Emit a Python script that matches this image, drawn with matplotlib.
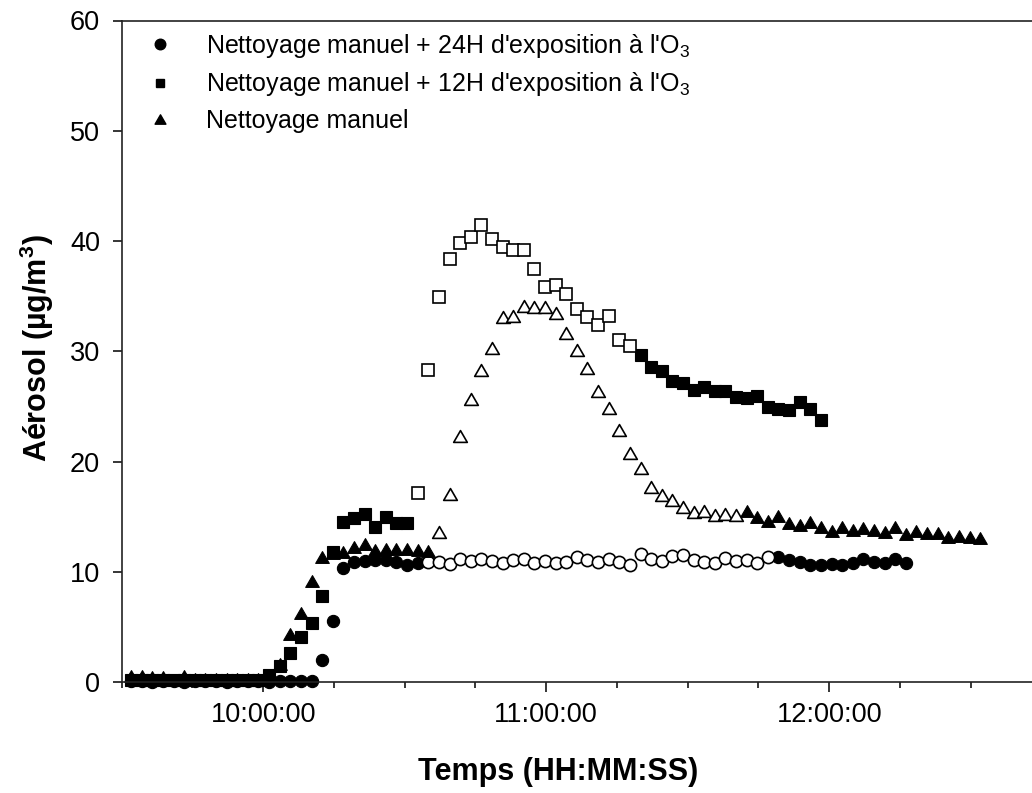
import matplotlib
matplotlib.use("Agg")
import matplotlib.pyplot as plt
import matplotlib.dates as mdates
from matplotlib.path import Path
from matplotlib.lines import Line2D
import numpy as np
import pandas as pd

plt.rcParams['font.family'] = ['Liberation Sans', 'DejaVu Sans']
plt.rcParams['mathtext.fontset'] = 'custom'
plt.rcParams['mathtext.rm'] = 'Liberation Sans'
plt.rcParams['mathtext.it'] = 'Liberation Sans:italic'
plt.rcParams['mathtext.bf'] = 'Liberation Sans:bold'

# ---------------- data ----------------
day = "2000-01-01 "
start_time = day + "09:32:00"      # first sample of every series
sample_interval = "135s"            # 2 min 15 s between samples

labels = ["Nettoyage manuel + 24H d'exposition à l'O$_3$",
          "Nettoyage manuel + 12H d'exposition à l'O$_3$",
          "Nettoyage manuel"]

# Nettoyage manuel + 24H d'exposition a l'O3 (circles)
aerosol_24h = [0.1, 0.1, 0.0, 0.1, 0.1, 0.0, 0.1, 0.1, 0.1, 0.0, 0.1, 0.1, 0.1, 0.0, 0.1, 0.1, 0.1, 0.1,
               2.0, 5.6, 10.35, 10.9, 11.0, 11.1, 11.1, 10.9, 10.6, 10.8,
               10.9,
               10.95, 10.71, 11.2, 11.01, 11.17, 11.01, 10.86, 11.1, 11.2, 10.86, 11.01, 10.86, 10.95, 11.4,
               11.1, 10.95, 11.2, 10.95, 10.6, 11.65, 11.2, 11.01, 11.47, 11.53, 11.1, 10.9, 10.85, 11.26, 10.98,
               11.1, 10.8, 11.35,
               11.35, 11.1, 10.9, 10.65, 10.65, 10.7, 10.65, 10.8, 11.17, 10.95, 10.8, 11.17, 10.8]
open_24h = (day + "10:35:00", day + "11:47:00")

# Nettoyage manuel + 12H d'exposition a l'O3 (squares)
aerosol_12h = [0.2, 0.2, 0.2, 0.2, 0.2, 0.2, 0.2, 0.2, 0.2, 0.2, 0.2, 0.2, 0.2,
               0.7, 1.5, 2.65, 4.15, 5.4, 7.8, 11.8, 14.5, 14.9, 15.3, 14.1, 15.0, 14.4, 14.4,
               17.2, 28.3, 34.9, 38.4, 39.8, 40.4, 41.5, 40.2, 39.5, 39.15, 39.2, 37.45, 35.8, 36.0,
               35.2, 33.8, 33.1, 32.4, 33.25, 31.0, 30.5,
               29.7, 28.6, 28.2, 27.3, 27.1, 26.5, 26.8, 26.4, 26.4, 25.9, 25.75, 26.0, 24.95, 24.8,
               24.65, 25.45, 24.8, 23.8]
open_12h = (day + "10:32:45", day + "11:17:45")

# Nettoyage manuel (triangles)
aerosol_manuel = [0.6, 0.6, 0.5, 0.5, 0.2, 0.6, 0.3, 0.3, 0.3, 0.3, 0.3, 0.3, 0.3, 0.4,
                  1.7, 4.4, 6.3, 9.2, 11.4, 11.7, 11.8, 12.3, 12.5, 12.0, 12.1, 12.1, 12.1, 12.0, 11.9,
                  13.6, 17.06, 22.35, 25.7, 28.3, 30.3, 33.1, 33.2, 34.1, 34.07, 34.0, 33.5, 31.65, 30.1,
                  28.5, 26.45, 24.85, 22.9, 20.8, 19.4, 17.7, 17.0, 16.55, 15.85, 15.4, 15.5, 15.15, 15.3, 15.15,
                  15.5, 15.0, 14.6, 15.05, 14.4, 14.3, 14.5, 14.1, 13.7, 14.1, 13.8, 14.0, 13.8, 13.6,
                  14.1, 13.4, 13.7, 13.5, 13.5, 13.2, 13.3, 13.2, 13.1]
open_manuel = (day + "10:37:15", day + "11:40:15")

y_ticks = [0, 10, 20, 30, 40, 50, 60]
x_limits = (day + "09:30:00", day + "12:50:00")

# ---------------- figure ----------------
W, H = 1032, 793
PX_PER_HOUR = 283
fig = plt.figure(figsize=(W / 100, H / 100), dpi=100)
span_h = (pd.Timestamp(x_limits[1]) - pd.Timestamp(x_limits[0])).total_seconds() / 3600
ax_w_px = PX_PER_HOUR * span_h
ax_left, ax_bottom = 121.7 / W, (H - 682.3) / H
ax_h_px = 682.3 - 20.5
ax = fig.add_axes([ax_left, ax_bottom, ax_w_px / W, ax_h_px / H])

tri = Path([(-1, -0.866), (1, -0.866), (0, 0.866), (-1, -0.866)],
           [Path.MOVETO, Path.LINETO, Path.LINETO, Path.CLOSEPOLY])

series = [
    (aerosol_24h, open_24h, 'o', 8.8, labels[0], 7.6),
    (aerosol_12h, open_12h, 's', 8.2, labels[1], 6.4),
    (aerosol_manuel, open_manuel, tri, 9.8, labels[2], 7.8),
]

handles = []
for vals, (o_start, o_end), mk, ms, lab, lms in series:
    v = np.array(vals)
    t = pd.date_range(start_time, periods=len(v), freq=sample_interval)
    is_open = (t >= pd.Timestamp(o_start)) & (t <= pd.Timestamp(o_end))
    ax.plot(t[~is_open], v[~is_open], ls='none', marker=mk, ms=ms,
            mfc='black', mec='black', mew=0.8, clip_on=False)
    ax.plot(t[is_open], v[is_open], ls='none', marker=mk, ms=ms,
            mfc='white', mec='black', mew=1.2, clip_on=False)
    handles.append(Line2D([], [], ls='none', marker=mk, ms=lms,
                          mfc='black', mec='black', label=lab))

ax.set_xlim(pd.Timestamp(x_limits[0]), pd.Timestamp(x_limits[1]))
ax.set_ylim(y_ticks[0], y_ticks[-1])
ax.set_yticks(y_ticks)

ax.xaxis.set_major_locator(mdates.HourLocator())
ax.xaxis.set_minor_locator(mdates.MinuteLocator(byminute=[0, 15, 30, 45]))
ax.xaxis.set_major_formatter(mdates.DateFormatter("%H:%M:%S"))

for s in ['left', 'bottom', 'top', 'right']:
    ax.spines[s].set_linewidth(1.2)
    ax.spines[s].set_color('#222222')

ax.tick_params(axis='x', which='major', direction='out', length=7.2, width=1.1,
               labelsize=19.5, pad=7, top=False)
ax.tick_params(axis='x', which='minor', direction='out', length=4.3, width=1.1, top=False)
ax.tick_params(axis='y', which='major', direction='out', length=6.5, width=1.1,
               labelsize=19.5, pad=9, right=False)

ax.set_xlabel("Temps (HH:MM:SS)", fontsize=22, fontweight='bold')
ax.set_ylabel(r"Aérosol (µg/m$^{\mathbf{3}}$)", fontsize=22, fontweight='bold')
ax.xaxis.set_label_coords((558 - 121.7) / ax_w_px, -(757 - 682.3) / ax_h_px)
ax.yaxis.set_label_coords((56 - 121.7) / ax_w_px, (682.3 - 348) / ax_h_px)

leg = ax.legend(handles=handles, loc='upper left', frameon=False,
                bbox_to_anchor=(147 / W, 1 - 32 / H), bbox_transform=fig.transFigure,
                fontsize=18, handlelength=1.0, handletextpad=1.35,
                borderpad=0, borderaxespad=0, labelspacing=0.42, numpoints=1)

fig.savefig("out.png", dpi=100)
